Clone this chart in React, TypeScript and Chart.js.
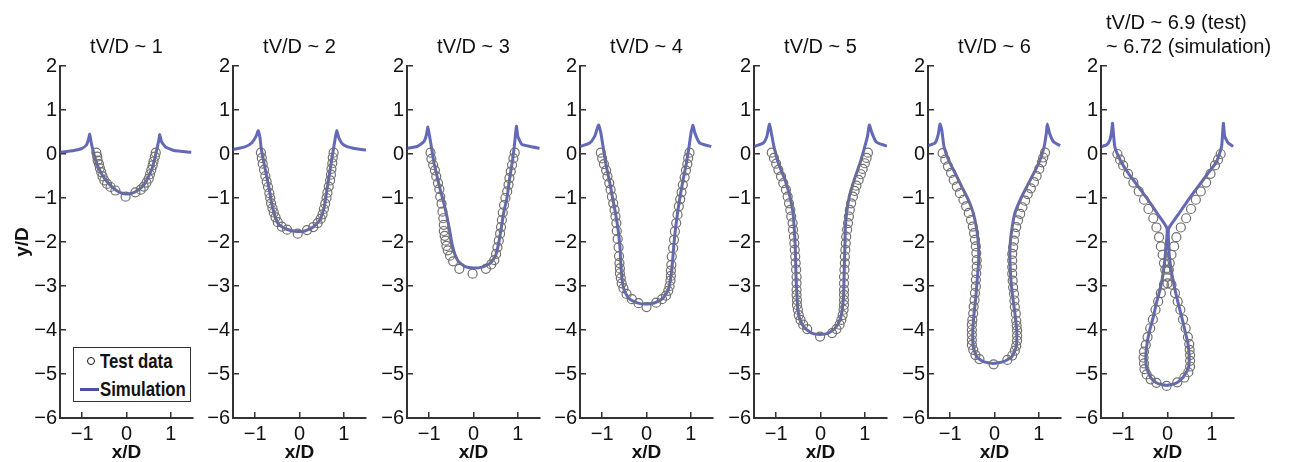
import React, { useEffect, useRef } from "react";
import { Chart, registerables } from "chart.js";

Chart.register(...registerables);

type P = [number, number];

// ---------- texts & ticks ----------
const panelTitles: string[][] = [
  ["tV/D ~ 1"],
  ["tV/D ~ 2"],
  ["tV/D ~ 3"],
  ["tV/D ~ 4"],
  ["tV/D ~ 5"],
  ["tV/D ~ 6"],
  ["tV/D ~ 6.9 (test)", "~ 6.72 (simulation)"],
];
const xTicks = [-1, 0, 1];
const yTicks = [-6, -5, -4, -3, -2, -1, 0, 1, 2];
const xRange: P = [-1.5, 1.5];
const yRange: P = [-6, 2];
const xLabel = "x/D";
const yLabel = "y/D";
const legendLabels = ["Test data", "Simulation"];

// ---------- data: simulation (x/D, y/D) ----------
const sim1: P[] = [
  [-1.5, 0.04], [-1.19, 0.08], [-1.0, 0.13], [-0.9, 0.21], [-0.85, 0.36], [-0.83, 0.45],
  [-0.8, 0.28], [-0.76, 0.1], [-0.71, -0.09], [-0.64, -0.3], [-0.55, -0.47], [-0.44, -0.63],
  [-0.29, -0.78], [-0.14, -0.88], [-0.02, -0.91], [0.13, -0.89], [0.28, -0.81], [0.41, -0.68],
  [0.5, -0.51], [0.58, -0.32], [0.64, -0.09], [0.69, 0.13], [0.73, 0.32], [0.75, 0.44],
  [0.79, 0.28], [0.88, 0.16], [1.07, 0.08], [1.46, 0.04],
];
const sim2: P[] = [
  [-1.5, 0.1], [-1.23, 0.16], [-1.08, 0.25], [-0.98, 0.4], [-0.93, 0.53], [-0.89, 0.36],
  [-0.86, 0.1], [-0.8, -0.21], [-0.74, -0.51], [-0.68, -0.81], [-0.63, -1.11], [-0.55, -1.42],
  [-0.46, -1.61], [-0.29, -1.71], [-0.07, -1.76], [0.12, -1.75], [0.31, -1.66], [0.46, -1.5],
  [0.56, -1.19], [0.62, -0.81], [0.69, -0.36], [0.75, 0.02], [0.8, 0.32], [0.84, 0.53],
  [0.89, 0.36], [0.99, 0.21], [1.21, 0.13], [1.5, 0.09],
];
const sim3: P[] = [
  [-1.5, 0.13], [-1.27, 0.17], [-1.12, 0.28], [-1.06, 0.44], [-1.03, 0.61], [-0.99, 0.4],
  [-0.94, 0.1], [-0.89, -0.21], [-0.82, -0.51], [-0.75, -0.81], [-0.67, -1.11], [-0.6, -1.42],
  [-0.54, -1.72], [-0.49, -2.02], [-0.43, -2.25], [-0.34, -2.44], [-0.19, -2.56], [0.0, -2.59],
  [0.19, -2.57], [0.38, -2.48], [0.49, -2.33], [0.57, -2.02], [0.62, -1.72], [0.68, -1.34],
  [0.76, -0.97], [0.81, -0.59], [0.87, -0.21], [0.92, 0.17], [0.95, 0.48], [0.97, 0.63],
  [1.0, 0.4], [1.09, 0.22], [1.28, 0.17], [1.49, 0.13],
];
const sim4: P[] = [
  [-1.5, 0.17], [-1.28, 0.25], [-1.17, 0.4], [-1.12, 0.55], [-1.08, 0.66], [-1.03, 0.48],
  [-0.98, 0.17], [-0.92, -0.21], [-0.84, -0.59], [-0.77, -0.97], [-0.7, -1.34], [-0.64, -1.72],
  [-0.6, -2.1], [-0.58, -2.48], [-0.55, -2.86], [-0.49, -3.13], [-0.38, -3.3], [-0.19, -3.39],
  [0.0, -3.41], [0.19, -3.38], [0.37, -3.28], [0.49, -3.09], [0.55, -2.79], [0.59, -2.41],
  [0.62, -2.03], [0.66, -1.65], [0.71, -1.27], [0.77, -0.89], [0.84, -0.51], [0.9, -0.21],
  [0.96, 0.17], [1.01, 0.51], [1.05, 0.65], [1.09, 0.48], [1.2, 0.25], [1.46, 0.17],
];
const sim5: P[] = [
  [-1.5, 0.17], [-1.29, 0.25], [-1.21, 0.4], [-1.18, 0.55], [-1.15, 0.68], [-1.11, 0.48],
  [-1.05, 0.17], [-0.95, -0.21], [-0.8, -0.59], [-0.69, -0.97], [-0.62, -1.34], [-0.59, -1.72],
  [-0.57, -2.1], [-0.56, -2.48], [-0.55, -2.86], [-0.53, -3.24], [-0.51, -3.54], [-0.46, -3.77],
  [-0.35, -3.96], [-0.2, -4.07], [-0.01, -4.1], [0.18, -4.07], [0.33, -3.96], [0.44, -3.77],
  [0.49, -3.54], [0.52, -3.24], [0.53, -2.86], [0.54, -2.48], [0.55, -2.1], [0.56, -1.72],
  [0.59, -1.34], [0.65, -0.97], [0.76, -0.59], [0.89, -0.21], [0.98, 0.1], [1.06, 0.4],
  [1.1, 0.66], [1.16, 0.48], [1.25, 0.28], [1.34, 0.23], [1.5, 0.18],
];
const sim6: P[] = [
  [-1.49, 0.19], [-1.34, 0.25], [-1.27, 0.44], [-1.23, 0.68], [-1.19, 0.55], [-1.14, 0.17],
  [-1.04, -0.13], [-0.89, -0.43], [-0.74, -0.74], [-0.59, -1.04], [-0.48, -1.34], [-0.4, -1.72],
  [-0.36, -2.1], [-0.36, -2.48], [-0.39, -2.86], [-0.42, -3.24], [-0.46, -3.62], [-0.49, -4.0],
  [-0.48, -4.38], [-0.4, -4.61], [-0.25, -4.72], [-0.03, -4.76], [0.2, -4.72], [0.39, -4.61],
  [0.49, -4.38], [0.5, -4.0], [0.46, -3.62], [0.41, -3.24], [0.37, -2.86], [0.35, -2.48],
  [0.35, -2.1], [0.39, -1.72], [0.46, -1.34], [0.58, -1.04], [0.73, -0.74], [0.89, -0.43],
  [1.03, -0.13], [1.12, 0.17], [1.17, 0.48], [1.19, 0.68], [1.24, 0.48], [1.33, 0.28],
  [1.48, 0.19],
];
const sim7: P[] = [
  [-1.49, 0.17], [-1.37, 0.21], [-1.3, 0.32], [-1.26, 0.51], [-1.24, 0.7], [-1.19, 0.17],
  [-1.07, -0.13], [-0.89, -0.43], [-0.66, -0.74], [-0.44, -1.04], [-0.21, -1.38], [-0.01, -1.69],
  [-0.04, -2.18], [-0.07, -2.48], [-0.11, -2.79], [-0.17, -3.09], [-0.25, -3.39], [-0.32, -3.7],
  [-0.4, -4.0], [-0.46, -4.3], [-0.49, -4.61], [-0.47, -4.87], [-0.38, -5.08], [-0.23, -5.21],
  [-0.02, -5.26], [0.19, -5.21], [0.35, -5.08], [0.47, -4.87], [0.49, -4.61], [0.46, -4.3],
  [0.39, -4.0], [0.32, -3.7], [0.24, -3.39], [0.17, -3.09], [0.11, -2.79], [0.06, -2.48],
  [0.03, -2.18], [0.02, -1.72], [0.05, -1.65], [0.24, -1.38], [0.47, -1.04], [0.69, -0.74],
  [0.92, -0.43], [1.11, -0.17], [1.22, 0.17], [1.26, 0.7], [1.29, 0.4], [1.37, 0.25],
  [1.48, 0.17],
];

// ---------- data: test (x/D, y/D) ----------
const test1: P[] = [
  [-0.68, 0.03], [-0.66, -0.06], [-0.65, -0.15], [-0.62, -0.23], [-0.6, -0.32], [-0.57, -0.41],
  [-0.54, -0.51], [-0.5, -0.6], [-0.44, -0.68], [-0.36, -0.75], [-0.25, -0.83], [-0.02, -0.97],
  [0.2, -0.87], [0.32, -0.81], [0.39, -0.74], [0.45, -0.65], [0.5, -0.56], [0.53, -0.46],
  [0.56, -0.36], [0.59, -0.26], [0.61, -0.17], [0.64, -0.06], [0.66, 0.03],
];
const test2: P[] = [
  [-0.87, 0.03], [-0.85, -0.09], [-0.83, -0.22], [-0.8, -0.36], [-0.77, -0.5], [-0.74, -0.63],
  [-0.71, -0.75], [-0.68, -0.89], [-0.66, -1.0], [-0.64, -1.12], [-0.61, -1.23], [-0.58, -1.33],
  [-0.54, -1.44], [-0.49, -1.55], [-0.4, -1.65], [-0.28, -1.72], [-0.04, -1.81], [0.17, -1.73],
  [0.31, -1.66], [0.41, -1.57], [0.48, -1.47], [0.52, -1.37], [0.55, -1.25], [0.58, -1.13],
  [0.61, -1.0], [0.63, -0.88], [0.66, -0.74], [0.69, -0.6], [0.71, -0.47], [0.72, -0.34],
  [0.74, -0.21], [0.75, -0.08], [0.77, 0.03],
];
const test3: P[] = [
  [-0.97, 0.03], [-0.95, -0.11], [-0.91, -0.25], [-0.87, -0.37], [-0.84, -0.51], [-0.8, -0.66],
  [-0.77, -0.8], [-0.75, -0.97], [-0.72, -1.13], [-0.7, -1.31], [-0.68, -1.46], [-0.67, -1.61],
  [-0.67, -1.75], [-0.65, -1.86], [-0.63, -1.97], [-0.61, -2.09], [-0.58, -2.19], [-0.53, -2.31],
  [-0.46, -2.44], [-0.32, -2.61], [-0.02, -2.72], [0.28, -2.61], [0.4, -2.51], [0.47, -2.41],
  [0.51, -2.27], [0.54, -2.12], [0.57, -1.97], [0.6, -1.81], [0.62, -1.66], [0.64, -1.5],
  [0.66, -1.33], [0.69, -1.16], [0.72, -1.0], [0.76, -0.85], [0.79, -0.7], [0.81, -0.55],
  [0.84, -0.4], [0.87, -0.25], [0.9, -0.1], [0.93, 0.03],
];
const test4: P[] = [
  [-1.03, 0.03], [-1.0, -0.1], [-0.96, -0.23], [-0.91, -0.37], [-0.88, -0.51], [-0.84, -0.66],
  [-0.81, -0.81], [-0.78, -0.97], [-0.75, -1.12], [-0.72, -1.27], [-0.7, -1.42], [-0.68, -1.57],
  [-0.67, -1.75], [-0.65, -1.93], [-0.63, -2.12], [-0.62, -2.32], [-0.61, -2.48], [-0.6, -2.6],
  [-0.6, -2.71], [-0.58, -2.82], [-0.56, -2.94], [-0.52, -3.05], [-0.45, -3.18], [-0.33, -3.3],
  [-0.18, -3.39], [0.0, -3.48], [0.22, -3.38], [0.35, -3.3], [0.44, -3.22], [0.49, -3.11],
  [0.52, -3.0], [0.54, -2.88], [0.55, -2.77], [0.55, -2.65], [0.56, -2.52], [0.57, -2.33],
  [0.6, -2.14], [0.62, -1.95], [0.64, -1.76], [0.67, -1.57], [0.7, -1.38], [0.73, -1.19],
  [0.76, -1.03], [0.79, -0.87], [0.82, -0.7], [0.86, -0.53], [0.89, -0.37], [0.92, -0.23],
  [0.94, -0.09], [0.97, 0.03],
];
const test5: P[] = [
  [-1.1, 0.03], [-1.05, -0.09], [-1.0, -0.22], [-0.95, -0.36], [-0.89, -0.51], [-0.84, -0.66],
  [-0.78, -0.81], [-0.74, -0.97], [-0.71, -1.12], [-0.68, -1.27], [-0.66, -1.42], [-0.63, -1.57],
  [-0.62, -1.72], [-0.6, -1.88], [-0.59, -2.03], [-0.58, -2.18], [-0.57, -2.33], [-0.56, -2.48],
  [-0.55, -2.63], [-0.54, -2.79], [-0.54, -2.94], [-0.54, -3.09], [-0.54, -3.2], [-0.53, -3.32],
  [-0.53, -3.43], [-0.51, -3.54], [-0.49, -3.66], [-0.45, -3.77], [-0.39, -3.88], [-0.3, -3.98],
  [-0.01, -4.15], [0.26, -4.07], [0.36, -3.98], [0.43, -3.88], [0.47, -3.77], [0.5, -3.66],
  [0.52, -3.54], [0.53, -3.43], [0.53, -3.32], [0.53, -3.2], [0.53, -3.09], [0.53, -2.94],
  [0.53, -2.79], [0.54, -2.63], [0.55, -2.48], [0.55, -2.33], [0.56, -2.18], [0.57, -2.03],
  [0.58, -1.88], [0.6, -1.72], [0.62, -1.57], [0.64, -1.42], [0.66, -1.27], [0.69, -1.12],
  [0.73, -0.97], [0.77, -0.84], [0.81, -0.72], [0.86, -0.59], [0.91, -0.46], [0.95, -0.34],
  [1.0, -0.21], [1.04, -0.09], [1.07, 0.03],
];
const test6: P[] = [
  [-1.17, 0.02], [-1.11, -0.13], [-1.05, -0.28], [-0.98, -0.43], [-0.92, -0.59], [-0.85, -0.74],
  [-0.78, -0.89], [-0.7, -1.04], [-0.64, -1.19], [-0.58, -1.34], [-0.53, -1.5], [-0.49, -1.65],
  [-0.46, -1.8], [-0.44, -1.95], [-0.42, -2.1], [-0.41, -2.25], [-0.4, -2.41], [-0.4, -2.56],
  [-0.41, -2.71], [-0.42, -2.86], [-0.42, -3.01], [-0.44, -3.16], [-0.45, -3.32], [-0.47, -3.47],
  [-0.48, -3.62], [-0.5, -3.77], [-0.51, -3.88], [-0.51, -4.0], [-0.51, -4.11], [-0.51, -4.23],
  [-0.51, -4.34], [-0.48, -4.45], [-0.43, -4.57], [-0.34, -4.66], [-0.02, -4.78], [0.29, -4.68],
  [0.4, -4.58], [0.46, -4.47], [0.49, -4.36], [0.51, -4.24], [0.51, -4.13], [0.51, -4.01],
  [0.5, -3.9], [0.49, -3.79], [0.48, -3.63], [0.46, -3.48], [0.45, -3.33], [0.44, -3.18],
  [0.42, -3.03], [0.41, -2.88], [0.4, -2.72], [0.4, -2.57], [0.4, -2.42], [0.4, -2.27],
  [0.42, -2.12], [0.44, -1.97], [0.46, -1.81], [0.49, -1.66], [0.53, -1.51], [0.58, -1.36],
  [0.63, -1.21], [0.69, -1.06], [0.75, -0.91], [0.82, -0.78], [0.89, -0.64], [0.95, -0.5],
  [1.01, -0.34], [1.07, -0.19], [1.1, -0.08], [1.14, 0.03],
];
const test7: P[] = [
  [-1.13, 0.0], [-1.07, -0.13], [-1.0, -0.26], [-0.89, -0.45], [-0.77, -0.65], [-0.65, -0.85],
  [-0.53, -1.04], [-0.43, -1.25], [-0.32, -1.46], [-0.25, -1.67], [-0.19, -1.89], [-0.15, -2.1],
  [-0.11, -2.29], [-0.08, -2.48], [-0.05, -2.63], [-0.02, -2.79],
  [1.2, 0.0], [1.14, -0.13], [1.07, -0.26], [0.97, -0.45], [0.87, -0.65], [0.75, -0.85],
  [0.64, -1.04], [0.53, -1.25], [0.42, -1.46], [0.3, -1.67], [0.2, -1.89], [0.15, -2.1],
  [0.09, -2.29], [0.05, -2.48], [0.03, -2.63], [0.0, -2.94],
  [-0.08, -2.97], [-0.15, -3.16], [-0.21, -3.35], [-0.27, -3.54], [-0.33, -3.76], [-0.39, -3.96],
  [-0.45, -4.16], [-0.49, -4.34], [-0.53, -4.49], [-0.54, -4.63], [-0.53, -4.76], [-0.52, -4.89],
  [-0.47, -5.01], [-0.38, -5.12], [-0.25, -5.2], [-0.02, -5.27], [0.22, -5.19], [0.38, -5.08],
  [0.47, -4.96], [0.51, -4.83], [0.51, -4.7], [0.51, -4.57], [0.5, -4.45], [0.49, -4.32],
  [0.46, -4.16], [0.41, -3.96], [0.35, -3.76], [0.29, -3.54], [0.23, -3.35], [0.17, -3.16],
  [0.09, -2.97],
];

const simSeries: P[][] = [sim1, sim2, sim3, sim4, sim5, sim6, sim7];
const testSeries: P[][] = [test1, test2, test3, test4, test5, test6, test7];

// ---------- style ----------
const SIM_COLOR = "rgba(72, 78, 170, 0.85)";
const TEST_COLOR = "#707070";
const AXIS_COLOR = "#333333";
const TEXT_COLOR = "#111111";
const FONT = "'Liberation Sans', Arial, Helvetica, sans-serif";

const Y_AXIS_W = 59;
const X_AXIS_H = 44;
const TOP_PAD = 66;
const PLOT_W = 133;
const CANVAS_W = 250;
const CANVAS_H = 462;
const PANEL_STEP = 173.6;

const fmtTick = (v: number | string) => String(v).replace("-", "\u2212");

const titlePlugin = {
  id: "panelTitle",
  afterDraw(chart: any, _args: any, opts: any) {
    const { ctx, chartArea } = chart;
    const lines: string[] = opts.lines || [];
    ctx.save();
    ctx.font = `20px ${FONT}`;
    ctx.fillStyle = TEXT_COLOR;
    ctx.textBaseline = "middle";
    const n = lines.length;
    lines.forEach((line, k) => {
      const y = 47 - (n - 1 - k) * 24;
      if (n > 1) {
        ctx.textAlign = "left";
        ctx.fillText(line, chartArea.left + 5, y);
      } else {
        ctx.textAlign = "center";
        ctx.fillText(line, (chartArea.left + chartArea.right) / 2, y);
      }
    });
    ctx.restore();
  },
};

function Panel({ index }: { index: number }) {
  const ref = useRef<HTMLCanvasElement>(null);
  useEffect(() => {
    const canvas = ref.current;
    if (!canvas) return;
    const chart = new Chart(canvas, {
      type: "scatter",
      data: {
        datasets: [
          {
            label: legendLabels[0],
            data: testSeries[index].map(([x, y]) => ({ x, y })),
            showLine: false,
            pointStyle: "circle",
            pointRadius: 4.5,
            pointBorderWidth: 1.2,
            pointBorderColor: TEST_COLOR,
            pointBackgroundColor: "rgba(0,0,0,0)",
            order: 1,
          },
          {
            label: legendLabels[1],
            data: simSeries[index].map(([x, y]) => ({ x, y })),
            showLine: true,
            pointRadius: 0,
            borderColor: SIM_COLOR,
            borderWidth: 3,
            tension: 0.15,
            fill: false,
            order: 2,
          },
        ],
      },
      options: {
        animation: false,
        responsive: false,
        events: [],
        layout: { padding: { top: TOP_PAD, right: CANVAS_W - Y_AXIS_W - PLOT_W, bottom: 0, left: 0 } },
        plugins: {
          legend: { display: false },
          tooltip: { enabled: false },
          panelTitle: { lines: panelTitles[index] },
        } as any,
        scales: {
          x: {
            type: "linear",
            min: xRange[0],
            max: xRange[1],
            afterBuildTicks: (s: any) => {
              s.ticks = xTicks.map((v) => ({ value: v }));
            },
            afterFit: (s: any) => {
              s.height = X_AXIS_H;
            },
            border: { display: true, color: AXIS_COLOR, width: 2 },
            grid: { drawOnChartArea: false, drawTicks: true, tickLength: -6, color: AXIS_COLOR, lineWidth: 1.5 },
            ticks: {
              padding: 10,
              color: TEXT_COLOR,
              font: { family: FONT, size: 20 },
              maxRotation: 0,
              callback: (v: any) => fmtTick(v),
            },
            title: {
              display: true,
              text: xLabel,
              color: TEXT_COLOR,
              font: { family: FONT, size: 19, weight: "bold", lineHeight: 1 },
              padding: { top: 0, bottom: 0 },
            },
          },
          y: {
            type: "linear",
            min: yRange[0],
            max: yRange[1],
            afterBuildTicks: (s: any) => {
              s.ticks = yTicks.map((v) => ({ value: v }));
            },
            afterFit: (s: any) => {
              s.width = Y_AXIS_W;
            },
            border: { display: true, color: AXIS_COLOR, width: 2 },
            grid: { drawOnChartArea: false, drawTicks: true, tickLength: -6, color: AXIS_COLOR, lineWidth: 1.5 },
            ticks: {
              padding: 9,
              color: TEXT_COLOR,
              font: { family: FONT, size: 20 },
              callback: (v: any) => fmtTick(v),
            },
            title: {
              display: index === 0,
              text: yLabel,
              color: TEXT_COLOR,
              font: { family: FONT, size: 19, weight: "bold", lineHeight: 1 },
              padding: { top: 12, bottom: 0 },
            },
          },
        },
      } as any,
      plugins: [titlePlugin],
    });
    return () => chart.destroy();
  }, [index]);

  const left = Math.round(0.6 + PANEL_STEP * index);
  return (
    <canvas
      ref={ref}
      width={CANVAS_W}
      height={CANVAS_H}
      style={{ position: "absolute", left, top: 0, width: CANVAS_W, height: CANVAS_H }}
    />
  );
}

function Legend() {
  const text: React.CSSProperties = {
    position: "absolute",
    left: 26,
    font: `bold 20px ${FONT}`,
    color: TEXT_COLOR,
    lineHeight: "20px",
    whiteSpace: "nowrap",
    transform: "scaleX(0.84)",
    transformOrigin: "0 50%",
    display: "inline-block",
  };
  return (
    <div
      style={{
        position: "absolute",
        left: 73,
        top: 347,
        width: 118,
        height: 55,
        border: `1px solid ${AXIS_COLOR}`,
        boxSizing: "border-box",
        background: "#ffffff",
      }}
    >
      <span
        style={{
          position: "absolute",
          left: 13,
          top: 9,
          width: 8,
          height: 8,
          borderRadius: "50%",
          border: "1.5px solid #111",
          boxSizing: "border-box",
        }}
      />
      <span style={{ ...text, top: 3 }}>{legendLabels[0]}</span>
      <span
        style={{ position: "absolute", left: 6, top: 40, width: 19, height: 3, background: "#4a50a8" }}
      />
      <span style={{ ...text, top: 31 }}>{legendLabels[1]}</span>
    </div>
  );
}

export default function App() {
  return (
    <div
      style={{
        position: "absolute",
        left: 0,
        top: 0,
        width: 1291,
        height: 462,
        background: "#ffffff",
        overflow: "hidden",
      }}
    >
      {panelTitles.map((_, i) => (
        <Panel key={i} index={i} />
      ))}
      <Legend />
    </div>
  );
}
